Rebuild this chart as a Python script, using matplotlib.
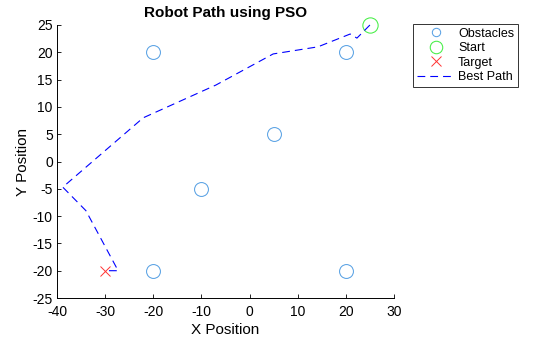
#!/usr/bin/env python3

import matplotlib.pyplot as plt
from matplotlib.lines import Line2D

plt.rcParams['font.family'] = ['Liberation Sans', 'DejaVu Sans']
plt.rcParams['axes.unicode_minus'] = False

# obstacle centres
obs_x = [-20, 20, 5, -10, -20, 20]
obs_y = [20, 20, 5, -5, -20, -20]

start = (25, 25)
target = (-30, -20)

# best path found by the swarm, start -> target
path_x = [25, 22.3, 20.9, 14.2, 4.9, -7.0, -22.1, -38.8, -34.0, -27.3, -30.0]
path_y = [25, 22.6, 23.35, 21.0, 19.7, 14.0, 8.0, -4.7, -9.0, -20.0, -20.0]

obs_color = '#5AA2E4'
start_color = '#44EE44'
path_dash = (7, 4.5)

fig = plt.figure(figsize=(5.6, 3.37), dpi=100)
ax = fig.add_axes([57 / 560, 1 - 298 / 337, 337 / 560, 273 / 337])

ax.plot(obs_x, obs_y, 'o', ls='none', ms=10, mfc='none', mec=obs_color, mew=0.75)
ax.plot(*start, 'o', ms=11, mfc='none', mec=start_color, mew=0.75, clip_on=False)
ax.plot(*target, 'x', ms=7, color='#FF3333', mew=0.7)
ax.plot(path_x, path_y, color='blue', lw=0.8, dashes=path_dash, clip_on=False)

ax.set_xlim(-40, 30)
ax.set_ylim(-25, 25)
ax.set_xticks(range(-40, 31, 10))
ax.set_yticks(range(-25, 26, 5))
ax.tick_params(direction='in', length=3, width=0.6, labelsize=10)
ax.tick_params(axis='x', pad=5)
ax.tick_params(axis='y', pad=3)
for side in ('top', 'right'):
    ax.spines[side].set_visible(False)
for side in ('left', 'bottom'):
    ax.spines[side].set_linewidth(0.7)

ax.set_xlabel('X Position', fontsize=11, labelpad=3)
ax.set_ylabel('Y Position', fontsize=11, labelpad=2)
ax.set_title('Robot Path using PSO', fontsize=11, fontweight='bold', pad=6)

handles = [
    Line2D([], [], ls='none', marker='o', ms=6, mfc='none', mec=obs_color, mew=0.75),
    Line2D([], [], ls='none', marker='o', ms=9, mfc='none', mec=start_color, mew=0.75),
    Line2D([], [], ls='none', marker='x', ms=7, color='#FF3333', mew=0.7),
    Line2D([], [], color='blue', lw=0.8, dashes=path_dash),
]
leg = fig.legend(handles, ['Obstacles', 'Start', 'Target', 'Best Path'],
                 loc='upper left', bbox_to_anchor=(413 / 560, 1 - 24 / 337),
                 fontsize=9, frameon=True, fancybox=False, borderpad=0.3,
                 labelspacing=0.2, handlelength=3.0, handletextpad=0.3,
                 borderaxespad=0)
leg.get_frame().set_edgecolor('black')
leg.get_frame().set_linewidth(0.7)

fig.savefig('out.png', dpi=100)
